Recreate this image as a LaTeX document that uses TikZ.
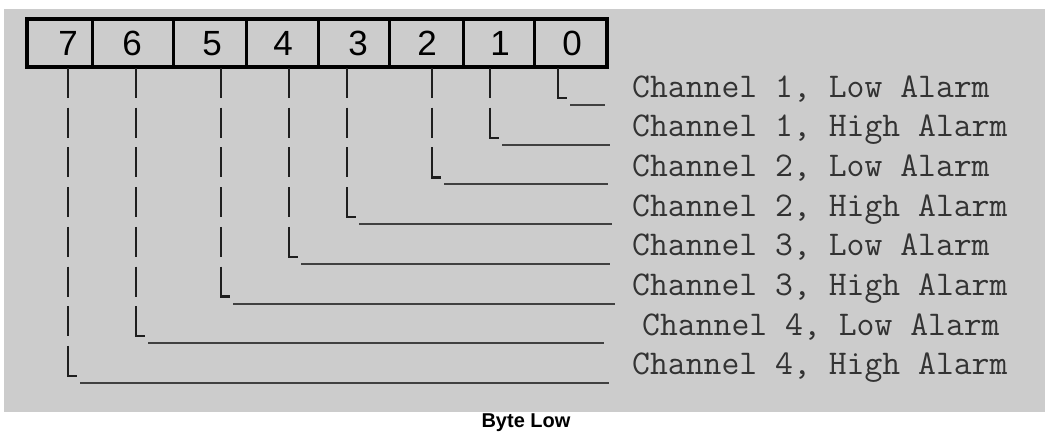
\documentclass[tikz,border=0pt]{standalone}
\usepackage{fontspec}
\setmainfont{Liberation Sans}
\usepackage{tikz}

\definecolor{panelgray}{HTML}{CCCCCC}
\definecolor{inkgray}{HTML}{1E1E1E}
\definecolor{textgray}{HTML}{333333}

\tikzset{
  cellline/.style={draw=black, line width=3pt},
  bitnum/.style={font=\fontsize{35}{35}\selectfont, anchor=base, inner sep=0pt},
  tickline/.style={draw=inkgray, line width=2.4pt},
  runline/.style={draw=inkgray!85, line width=2pt},
  rowlabel/.style={font=\ttfamily\fontsize{34.7}{35}\selectfont, text=textgray, anchor=base west, inner sep=0pt},
}

\begin{document}
\begin{tikzpicture}[x=1pt,y=-1pt]

% page and grey panel
\useasboundingbox (0,0) rectangle (1045,432);
\fill[panelgray] (4,9) rectangle (1045,412);

% register cells
\foreach \d in {92,173,246,318,389,463,534}
  \draw[cellline] (\d,19) -- (\d,67);
\draw[cellline, line width=3.6pt] (27,19) rectangle (607,67);

% bit numbers
\node[bitnum] (bit7) at (68,55) {7};
\node[bitnum] (bit6) at (132,55) {6};
\node[bitnum] (bit5) at (212,55) {5};
\node[bitnum] (bit4) at (283,55) {4};
\node[bitnum] (bit3) at (358,55) {3};
\node[bitnum] (bit2) at (427,55) {2};
\node[bitnum] (bit1) at (500,55) {1};
\node[bitnum] (bit0) at (572,55) {0};

% channel labels
\node[rowlabel] (lab0) at (632,97) {Channel 1, Low Alarm};
\node[rowlabel] (lab1) at (632,136.7) {Channel 1, High Alarm};
\node[rowlabel] (lab2) at (632,176.4) {Channel 2, Low Alarm};
\node[rowlabel] (lab3) at (632,216.1) {Channel 2, High Alarm};
\node[rowlabel] (lab4) at (632,255.8) {Channel 3, Low Alarm};
\node[rowlabel] (lab5) at (632,295.5) {Channel 3, High Alarm};
\node[rowlabel] (lab6) at (642,335.2) {Channel 4, Low Alarm};
\node[rowlabel] (lab7) at (632,374.9) {Channel 4, High Alarm};

% bit leads: bars, corner, run to label
\foreach \b/\x/\e in {0/558/605,1/490/610,2/432/608,3/347/612,4/289/610,5/221/615,6/136/604,7/68/609}{
  \pgfmathsetmacro\t{68+39.7*\b}
  \ifnum\b>0
    \draw[tickline, dash pattern=on 30pt off 9.7pt] (\x,68) -- (\x,\t-9.7);
  \fi
  \draw[tickline] (\x,\t) -- (\x,\t+30) -- (\x+9,\t+30);
  \draw[runline] (\x+12,\t+37) -- (\e,\t+37);
}

% caption
\node[font=\bfseries\fontsize{20}{20}\selectfont, anchor=base, inner sep=0pt] (caption) at (526,427) {Byte Low};

\end{tikzpicture}
\end{document}
